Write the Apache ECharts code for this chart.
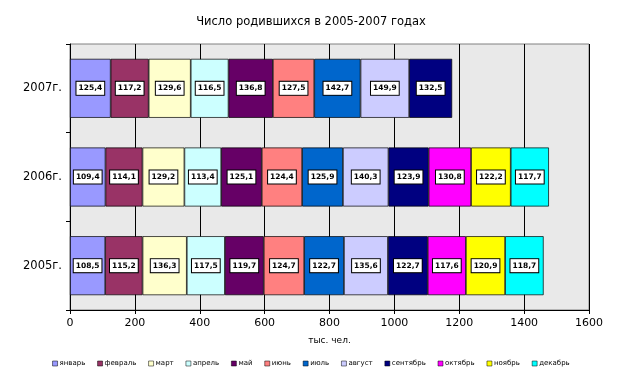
<!DOCTYPE html>
<html>
<head>
<meta charset="utf-8">
<script src="https://cdn.jsdelivr.net/npm/echarts@6/dist/echarts.min.js"></script>
<style>
  html, body { margin: 0; padding: 0; background: #fff; }
  #chart { width: 622px; height: 377px; }
</style>
</head>
<body>
<div id="chart"></div>
<script>
// years from bottom to top
var years = ['2005г.', '2006г.', '2007г.'];
var months = ['январь', 'февраль', 'март', 'апрель', 'май', 'июнь',
  'июль', 'август', 'сентябрь', 'октябрь', 'ноябрь', 'декабрь'];
var colors = ['#9999FF', '#993366', '#FFFFCC', '#CCFFFF', '#660066', '#FF8080',
  '#0066CC', '#CCCCFF', '#000080', '#FF00FF', '#FFFF00', '#00FFFF'];

// values per month, thousand people
var births2005 = [108.5, 115.2, 136.3, 117.5, 119.7, 124.7, 122.7, 135.6, 122.7, 117.6, 120.9, 118.7];
var births2006 = [109.4, 114.1, 129.2, 113.4, 125.1, 124.4, 125.9, 140.3, 123.9, 130.8, 122.2, 117.7];
var births2007 = [125.4, 117.2, 129.6, 116.5, 136.8, 127.5, 142.7, 149.9, 132.5, null, null, null];

var xTicks = [0, 200, 400, 600, 800, 1000, 1200, 1400, 1600];

var font = 'DejaVu Sans';

var series = months.map(function (m, i) {
  return {
    name: m,
    type: 'bar',
    stack: 'total',
    barWidth: '66.5%',
    itemStyle: { color: colors[i], borderColor: '#000', borderWidth: 0.7, borderRadius: 0 },
    label: {
      show: true,
      position: 'inside',
      fontFamily: font,
      fontSize: 7.5,
      fontWeight: 'bold',
      color: '#000',
      backgroundColor: '#fff',
      borderColor: '#000',
      borderWidth: 1,
      borderRadius: 0,
      padding: [3, 2, 2, 2],
      formatter: function (p) { return String(p.value).replace('.', ','); }
    },
    data: [births2005[i], births2006[i], births2007[i]]
  };
});

var chart = echarts.init(document.getElementById('chart'));
chart.setOption({
  animation: false,
  textStyle: { fontFamily: font },
  title: {
    text: 'Число родившихся в 2005-2007 годах',
    left: 'center',
    top: 11,
    textStyle: { fontFamily: font, fontSize: 11.5, fontWeight: 'normal', color: '#000' }
  },
  legend: {
    bottom: 5,
    left: 'center',
    itemWidth: 5,
    itemHeight: 5,
    itemGap: 12,
    icon: 'rect',
    textStyle: { fontFamily: font, fontSize: 7, color: '#000', padding: [0, 0, 0, -3] },
    itemStyle: { borderColor: '#000', borderWidth: 0.5 },
    data: months
  },
  grid: {
    left: 70, right: 33, top: 44, bottom: 67,
    show: true,
    backgroundColor: '#e9e9e9',
    borderColor: '#808080',
    borderWidth: 1
  },
  xAxis: {
    type: 'value',
    min: xTicks[0],
    max: xTicks[xTicks.length - 1],
    interval: 200,
    name: 'тыс. чел.',
    nameLocation: 'middle',
    nameGap: 26,
    nameTextStyle: { fontFamily: font, fontSize: 9, color: '#000' },
    axisLine: { show: true, lineStyle: { color: '#000' } },
    axisTick: { show: true, length: 4, lineStyle: { color: '#000' } },
    axisLabel: { fontFamily: font, fontSize: 11, color: '#000', margin: 8,
      formatter: function (v) { return String(v); } },
    splitLine: { show: true, lineStyle: { color: '#000', width: 1 } }
  },
  yAxis: {
    type: 'category',
    data: years,
    axisLine: { show: true, lineStyle: { color: '#000' } },
    axisTick: { show: true, length: 4, lineStyle: { color: '#000' } },
    axisLabel: { fontFamily: font, fontSize: 11.5, color: '#000', margin: 8 }
  },
  series: series
});
</script>
</body>
</html>
